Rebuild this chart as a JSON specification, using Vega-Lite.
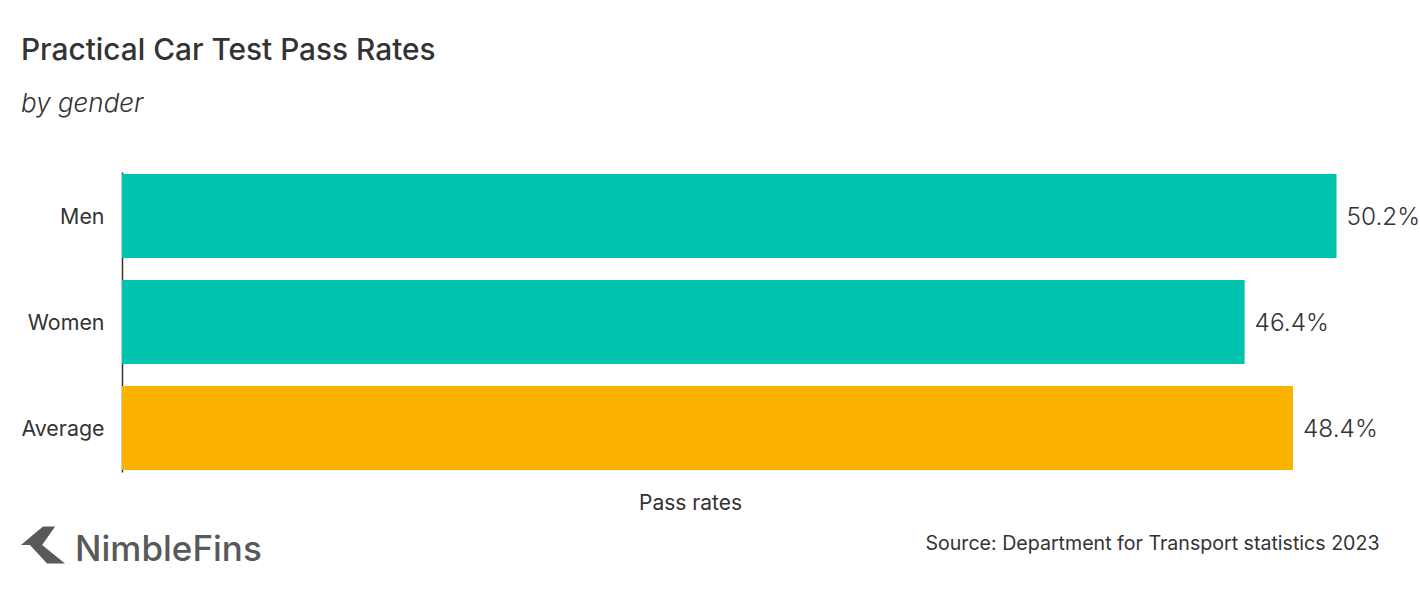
{
  "$schema": "https://vega.github.io/schema/vega-lite/v6.json",
  "width": 1298,
  "height": 300,
  "autosize": "none",
  "padding": {"left": 122, "top": 172, "right": 0, "bottom": 120},
  "background": "white",
  "title": {
    "text": "Practical Car Test Pass Rates",
    "subtitle": "by gender",
    "anchor": "start",
    "frame": "group",
    "orient": "top",
    "dx": -101,
    "offset": 55,
    "font": "Inter",
    "fontSize": 29.8,
    "fontWeight": 500,
    "color": "#333333",
    "subtitleFont": "Inter",
    "subtitleFontSize": 26,
    "subtitleFontWeight": 300,
    "subtitleFontStyle": "italic",
    "subtitleColor": "#333333",
    "subtitlePadding": 25
  },
  "config": {"view": {"stroke": null}},
  "data": {
    "values": [
      {"group": "Men", "kind": "gender", "rate": 0.502},
      {"group": "Women", "kind": "gender", "rate": 0.464},
      {"group": "Average", "kind": "average", "rate": 0.484}
    ]
  },
  "encoding": {
    "y": {
      "field": "group",
      "type": "nominal",
      "sort": null,
      "scale": {"paddingInner": 0.2075, "paddingOuter": 0.0189},
      "axis": {
        "title": null,
        "ticks": false,
        "domainColor": "#333333",
        "domainWidth": 1.5,
        "labelFont": "Inter",
        "labelFontSize": 21.4,
        "labelColor": "#333333",
        "labelPadding": 18,
        "labelOffset": 2
      }
    },
    "x": {
      "field": "rate",
      "type": "quantitative",
      "scale": {"domain": [0, 0.5365]}
    }
  },
  "layer": [
    {
      "mark": {"type": "bar"},
      "encoding": {
        "x": {
          "field": "rate",
          "type": "quantitative",
          "scale": {"domain": [0, 0.5365]},
          "axis": {
            "title": "Pass rates",
            "domain": false,
            "ticks": false,
            "labels": false,
            "grid": false,
            "titleX": 568,
            "titleY": 20,
            "titleFont": "Inter",
            "titleFontSize": 21,
            "titleFontWeight": 400,
            "titleColor": "#333333"
          }
        },
        "color": {
          "field": "kind",
          "type": "nominal",
          "scale": {"domain": ["gender", "average"], "range": ["#00c4ae", "#fbb300"]},
          "legend": null
        },
        "opacity": {
          "datum": "NimbleFins",
          "scale": {"range": [1]},
          "legend": {
            "orient": "none",
            "legendX": -124,
            "legendY": 333,
            "title": null,
            "padding": 0,
            "symbolType": "M-0.49,-0.11L0,-0.52L0.27,-0.52L-0.02,-0.11L0.49,0.3L0.09,0.3L-0.29,-0.11Z",
            "symbolSize": 8100,
            "symbolFillColor": "#58595b",
            "symbolStrokeWidth": 0,
            "symbolOpacity": 1,
            "labelFont": "Inter",
            "labelFontSize": 35,
            "labelFontWeight": 500,
            "labelColor": "#58595b",
            "labelOffset": -13,
            "labelLimit": 300
          }
        }
      }
    },
    {
      "mark": {"type": "text", "align": "left", "dx": 10, "dy": 2, "font": "Inter", "fontSize": 24.4, "fontWeight": 300, "color": "#333333"},
      "encoding": {
        "text": {"field": "rate", "type": "quantitative", "format": ".1%"},
        "x": {
          "field": "rate",
          "type": "quantitative",
          "scale": {"domain": [0, 0.5365]},
          "axis": {
            "orient": "top",
            "title": "Source: Department for Transport statistics 2023",
            "domain": false,
            "ticks": false,
            "labels": false,
            "grid": false,
            "titleX": 1257,
            "titleY": 381,
            "titleAlign": "right",
            "titleAnchor": "end",
            "titleFont": "Inter",
            "titleFontSize": 19.6,
            "titleFontWeight": 400,
            "titleColor": "#333333",
            "titleLimit": 600
          }
        }
      }
    }
  ],
  "resolve": {"axis": {"x": "independent"}}
}
